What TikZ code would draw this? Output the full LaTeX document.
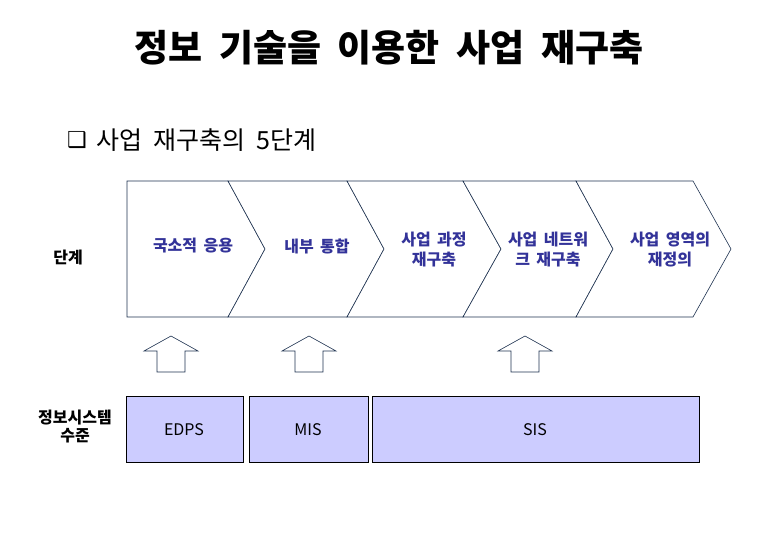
\documentclass[tikz,border=0pt]{standalone}
\usepackage{fontspec}
\setmainfont{Noto Sans CJK KR}
\newfontfamily\symfont{DejaVu Sans}
\newcommand\wsp[1]{\spaceskip=#1\relax}
\definecolor{navy}{RGB}{30,50,80}
\definecolor{lbl}{RGB}{51,51,153}
\definecolor{lav}{RGB}{204,204,255}
\tikzset{
  chev/.style={draw=navy, line width=0.6pt, fill=white},
  uparrow/.style={draw=navy, line width=0.6pt, fill=white},
  lvlbox/.style={draw=black, line width=0.8pt, fill=lav},
  chevlbl/.style={text=lbl, font=\fontsize{16}{20}\selectfont\bfseries, align=center, inner sep=0pt},
  sidelbl/.style={text=black, font=\fontsize{16}{18}\selectfont\bfseries, align=center, inner sep=0pt},
  boxlbl/.style={text=black, font=\fontsize{16}{18}\selectfont, inner sep=0pt}
}
\begin{document}
\begin{tikzpicture}[x=1pt,y=-1pt]
\useasboundingbox (0,0) rectangle (780,540);
% title
\node[font=\fontsize{37}{40}\selectfont\bfseries, inner sep=0pt] (title) at (389,48) {\wsp{0.45em}정보 기술을 이용한 사업 재구축};
% subtitle
\node[anchor=west, inner sep=0pt, font=\fontsize{22}{24}\selectfont] (bul) at (67,140) {\symfont ❑};
\node[anchor=west, inner sep=0pt, font=\fontsize{25}{27}\selectfont] (sub) at (96,140) {\wsp{0.45em}사업 재구축의 5단계};
% chevrons
\draw[chev] (127,181) -- (228,181) -- (265,249) -- (228,317) -- (127,317) -- cycle;
\draw[chev] (228,181) -- (347,181) -- (384,249) -- (347,317) -- (228,317) -- (265,249) -- cycle;
\draw[chev] (347,181) -- (463,181) -- (501,249) -- (463,317) -- (347,317) -- (384,249) -- cycle;
\draw[chev] (463,181) -- (576,181) -- (613,249) -- (576,317) -- (463,317) -- (501,249) -- cycle;
\draw[chev] (576,181) -- (693,181) -- (731,249) -- (693,317) -- (576,317) -- (613,249) -- cycle;
\node[chevlbl] (c1) at (193,246) {\wsp{0.4em}국소적 응용};
\node[chevlbl] (c2) at (317,246) {\wsp{0.4em}내부 통합};
\node[chevlbl] (c3) at (434,250) {\wsp{0.4em}사업 과정\\재구축};
\node[chevlbl] (c4) at (548,250) {\wsp{0.4em}사업 네트워\\\wsp{0.4em}크 재구축};
\node[chevlbl] (c5) at (670,250) {\wsp{0.4em}사업 영역의\\재정의};
\node[sidelbl] (stage) at (68,258) {단계};
\node[sidelbl] (level) at (75,426) {정보시스템\\수준};
% arrows
\foreach \c/\n in {171/a1, 309/a2, 525/a3}{
  \draw[uparrow] (\c-27,351) -- (\c,336) -- (\c+27,351) -- (\c+14,351) -- (\c+14,372) -- (\c-14,372) -- (\c-14,351) -- cycle;
}
% level boxes
\draw[lvlbox] (126,396) rectangle (243,462);
\draw[lvlbox] (249,396) rectangle (368,462);
\draw[lvlbox] (372,396) rectangle (699,462);
\node[boxlbl] (edps) at (184,430) {EDPS};
\node[boxlbl] (mis) at (308,430) {MIS};
\node[boxlbl] (sis) at (535,430) {SIS};
\end{tikzpicture}
\end{document}
